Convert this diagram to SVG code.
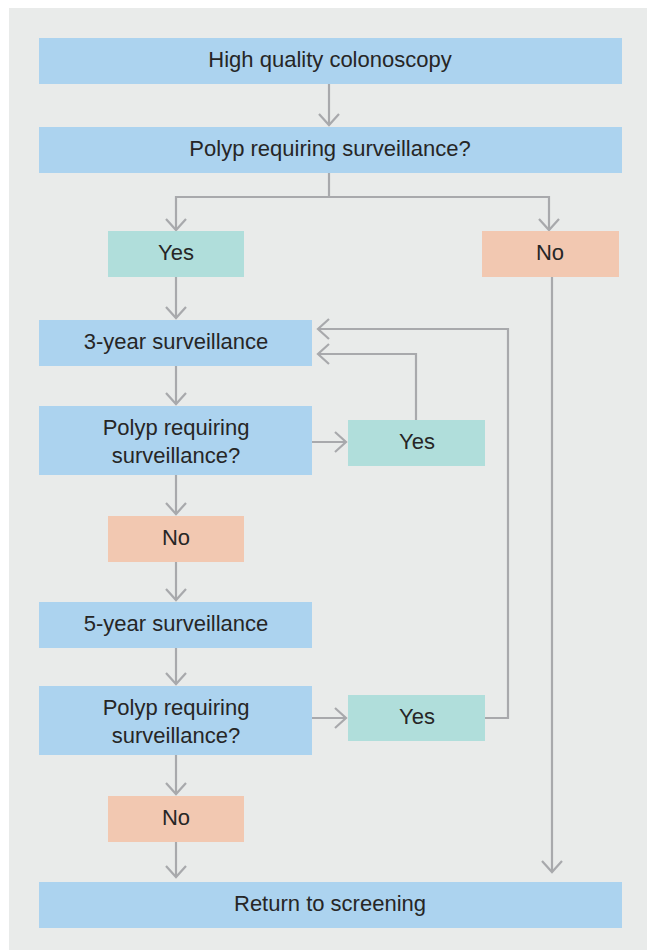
<svg xmlns="http://www.w3.org/2000/svg" width="647" height="950" viewBox="0 0 647 950">
<style>
.blue{fill:#acd3ef}
.teal{fill:#b0dedb}
.sal{fill:#f2c8b1}
.t{font-family:"Liberation Sans",Arial,sans-serif;font-size:22px;fill:#262626;text-anchor:middle}
.c{fill:none;stroke:#a8a9ac;stroke-width:2.2}
</style>
<defs>
<marker id="ah" markerUnits="userSpaceOnUse" markerWidth="30" markerHeight="30" viewBox="-15 -15 30 30" refX="0" refY="0" orient="auto">
<path d="M-11,-10 L0,0 L-11,10" fill="none" stroke="#a8a9ac" stroke-width="2.2"/>
</marker>
</defs>
<rect x="9" y="8" width="638" height="942" fill="#e9ebea"/>
<g id="connectors" class="c">
<path d="M329,84 V125" marker-end="url(#ah)"/>
<path d="M329,172 V197"/>
<path d="M329,197 H176 V230" marker-end="url(#ah)"/>
<path d="M329,197 H549 V230" marker-end="url(#ah)"/>
<path d="M176,276 V318" marker-end="url(#ah)"/>
<path d="M552,276 V872" marker-end="url(#ah)"/>
<path d="M176,365 V404" marker-end="url(#ah)"/>
<path d="M312,442 H346" marker-end="url(#ah)"/>
<path d="M416,420 V354 H318" marker-end="url(#ah)"/>
<path d="M176,474 V514" marker-end="url(#ah)"/>
<path d="M176,561 V600" marker-end="url(#ah)"/>
<path d="M176,647 V684" marker-end="url(#ah)"/>
<path d="M312,718 H346" marker-end="url(#ah)"/>
<path d="M484,718 H508 V329 H318" marker-end="url(#ah)"/>
<path d="M176,754 V794" marker-end="url(#ah)"/>
<path d="M176,841 V877" marker-end="url(#ah)"/>
</g>
<g id="n1"><rect class="blue" x="39" y="38" width="583" height="46"/><text class="t" x="330" y="67">High quality colonoscopy</text></g>
<g id="n2"><rect class="blue" x="39" y="127" width="583" height="46"/><text class="t" x="330" y="156">Polyp requiring surveillance?</text></g>
<g id="n3"><rect class="teal" x="108" y="231" width="136" height="46"/><text class="t" x="176" y="260">Yes</text></g>
<g id="n4"><rect class="sal" x="482" y="231" width="137" height="46"/><text class="t" x="550" y="260">No</text></g>
<g id="n5"><rect class="blue" x="39" y="320" width="273" height="46"/><text class="t" x="176" y="349">3-year surveillance</text></g>
<g id="n6"><rect class="blue" x="39" y="406" width="273" height="69"/><text class="t" x="176" y="435">Polyp requiring</text><text class="t" x="176" y="463">surveillance?</text></g>
<g id="n7"><rect class="teal" x="348" y="420" width="137" height="46"/><text class="t" x="417" y="449">Yes</text></g>
<g id="n8"><rect class="sal" x="108" y="516" width="136" height="46"/><text class="t" x="176" y="545">No</text></g>
<g id="n9"><rect class="blue" x="39" y="602" width="273" height="46"/><text class="t" x="176" y="631">5-year surveillance</text></g>
<g id="n10"><rect class="blue" x="39" y="686" width="273" height="69"/><text class="t" x="176" y="715">Polyp requiring</text><text class="t" x="176" y="743">surveillance?</text></g>
<g id="n11"><rect class="teal" x="348" y="695" width="137" height="46"/><text class="t" x="417" y="724">Yes</text></g>
<g id="n12"><rect class="sal" x="108" y="796" width="136" height="46"/><text class="t" x="176" y="825">No</text></g>
<g id="n13"><rect class="blue" x="39" y="882" width="583" height="46"/><text class="t" x="330" y="911">Return to screening</text></g>
</svg>
